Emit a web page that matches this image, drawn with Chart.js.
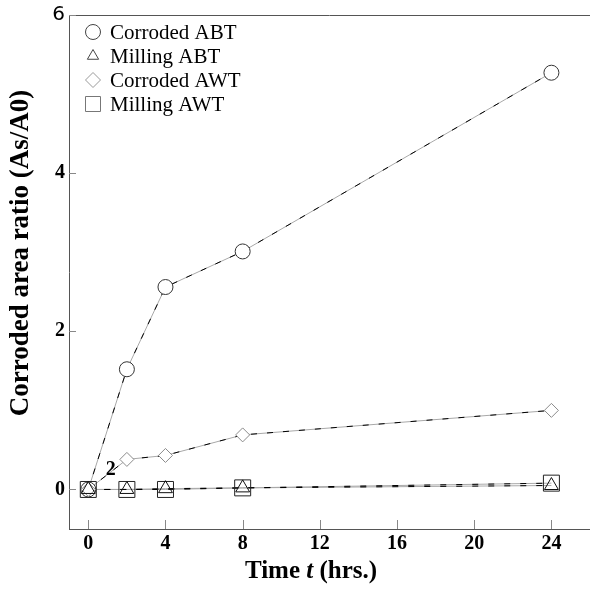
<!DOCTYPE html>
<html>
<head>
<meta charset="utf-8">
<script src="https://cdn.jsdelivr.net/npm/chart.js@4.4.0/dist/chart.umd.min.js"></script>
<style>
  html, body { margin: 0; padding: 0; background: #fff; }
  #wrap { width: 590px; height: 589px; position: relative; }
</style>
</head>
<body>
<div id="wrap"><canvas id="chart"></canvas></div>
<script>
// data
const timeHours = [0, 2, 4, 8, 24];
const corrodedABT = [0, 1.52, 2.56, 3.01, 5.27];
const millingABT = [0, 0, 0.01, 0.02, 0.05];
const corrodedAWT = [0, 0.38, 0.43, 0.69, 1.0];
const millingAWT = [0, 0, 0, 0.02, 0.08];
const seriesNames = ["Corroded ABT", "Milling ABT", "Corroded AWT", "Milling AWT"];
const xTickValues = [0, 4, 8, 12, 16, 20, 24];
const yTickValues = [0, 2, 4, 6];
const noteText = "2";

const serif = "'Liberation Serif', 'Times New Roman', serif";

// marker look for each series (order: lower is drawn on top)
const markerStyles = [
  { style: "circle", radius: 7.5, color: "#333", fill: "#fff", order: 4 },
  { style: "triangle", radius: 8, color: "#111", fill: "rgba(0,0,0,0)", order: 1 },
  { style: "rectRot", radius: 7, color: "#8a8a8a", fill: "#fff", order: 3 },
  { style: "rect", radius: 11.3, color: "#222", fill: "rgba(0,0,0,0)", order: 2 },
];
const allSeries = [corrodedABT, millingABT, corrodedAWT, millingAWT];

function toPoints(values) {
  return timeHours.map((t, i) => ({ x: t, y: values[i] }));
}

const datasets = [];
allSeries.forEach((values, i) => {
  // gray base line
  datasets.push({
    data: toPoints(values),
    borderColor: "#a8a8a8",
    borderWidth: 1,
    pointRadius: 0,
    order: 30,
  });
  // black dashes over it, the source line flickers between black and gray
  datasets.push({
    data: toPoints(values),
    borderColor: "#000",
    borderWidth: 1,
    borderDash: [6, 10],
    pointRadius: 0,
    order: 20,
  });
  // the markers
  datasets.push({
    label: seriesNames[i],
    data: toPoints(values),
    showLine: false,
    pointStyle: markerStyles[i].style,
    pointRadius: markerStyles[i].radius,
    pointHoverRadius: markerStyles[i].radius,
    pointBorderColor: markerStyles[i].color,
    pointBackgroundColor: markerStyles[i].fill,
    pointBorderWidth: 1,
    order: markerStyles[i].order,
  });
});

function drawMarker(ctx, style, x, y, r, color) {
  ctx.save();
  ctx.strokeStyle = color;
  ctx.fillStyle = "#fff";
  ctx.lineWidth = 1;
  ctx.beginPath();
  if (style === "circle") {
    ctx.arc(x, y, r, 0, Math.PI * 2);
  } else if (style === "triangle") {
    ctx.moveTo(x, y - r);
    ctx.lineTo(x + r * 0.866, y + r * 0.5);
    ctx.lineTo(x - r * 0.866, y + r * 0.5);
    ctx.closePath();
  } else if (style === "rectRot") {
    ctx.moveTo(x, y - r);
    ctx.lineTo(x + r, y);
    ctx.lineTo(x, y + r);
    ctx.lineTo(x - r, y);
    ctx.closePath();
  } else {
    ctx.rect(x - r, y - r, 2 * r, 2 * r);
  }
  ctx.fill();
  ctx.stroke();
  ctx.restore();
}

const decorations = {
  id: "decorations",
  afterDraw(chart) {
    const ctx = chart.ctx;
    const area = chart.chartArea;
    const xs = chart.scales.x;
    const ys = chart.scales.y;
    ctx.save();

    // top frame line
    ctx.strokeStyle = "#555";
    ctx.lineWidth = 1;
    ctx.beginPath();
    ctx.moveTo(area.left, area.top + 0.5);
    ctx.lineTo(area.right, area.top + 0.5);
    ctx.stroke();

    // inward tick marks
    ctx.strokeStyle = "#888";
    ctx.beginPath();
    xTickValues.forEach((v) => {
      const px = Math.round(xs.getPixelForValue(v)) + 0.5;
      ctx.moveTo(px, area.bottom);
      ctx.lineTo(px, area.bottom - 9);
    });
    yTickValues.forEach((v) => {
      const py = Math.round(ys.getPixelForValue(v)) + 0.5;
      ctx.moveTo(area.left, py);
      ctx.lineTo(area.left + 7, py);
    });
    ctx.stroke();

    // note near the origin
    ctx.fillStyle = "#000";
    ctx.font = "bold 20px " + serif;
    ctx.textAlign = "center";
    ctx.textBaseline = "middle";
    ctx.fillText(noteText, xs.getPixelForValue(1.16), ys.getPixelForValue(0.25));

    // legend
    ctx.font = "21px " + serif;
    ctx.textAlign = "left";
    seriesNames.forEach((name, i) => {
      const y = 32 + i * 24;
      const legendR = [7.5, 6.5, 7.5, 7.5][i];
      const legendColor = ["#444", "#444", "#999", "#777"][i];
      const st = markerStyles[i].style === "rect" ? "square" : markerStyles[i].style;
      drawMarker(ctx, st, 93, y, legendR, legendColor);
      ctx.fillStyle = "#000";
      ctx.fillText(name, 110, y + 1);
    });

    // x axis title with italic t
    ctx.textBaseline = "middle";
    const parts = [
      { t: "Time ", f: "bold 25px " + serif },
      { t: "t", f: "italic bold 25px " + serif },
      { t: " (hrs.)", f: "bold 25px " + serif },
    ];
    let total = 0;
    parts.forEach((p) => { ctx.font = p.f; p.w = ctx.measureText(p.t).width; total += p.w; });
    let cx = 311 - total / 2;
    parts.forEach((p) => { ctx.font = p.f; ctx.fillText(p.t, cx, 572); cx += p.w; });

    // y axis title
    ctx.translate(21, 253);
    ctx.rotate(-Math.PI / 2);
    ctx.font = "bold 27px " + serif;
    ctx.textAlign = "center";
    ctx.fillText("Corroded area ratio (As/A0)", 0, 0);
    ctx.restore();
  },
};

const ctx = document.getElementById("chart").getContext("2d");
const chart = new Chart(ctx, {
  type: "line",
  data: { datasets: datasets },
  options: {
    responsive: true,
    maintainAspectRatio: false,
    animation: false,
    layout: { autoPadding: false, padding: { top: 15, right: 0, left: 0, bottom: 0 } },
    plugins: { legend: { display: false }, tooltip: { enabled: false } },
    scales: {
      x: {
        type: "linear",
        min: -1,
        max: 26,
        grid: { display: false, drawTicks: false },
        border: { display: true, color: "#555", width: 1 },
        afterBuildTicks: (scale) => { scale.ticks = xTickValues.map((v) => ({ value: v })); },
        afterFit: (scale) => {
          scale.height = 60;
          scale.paddingLeft = 0;
          scale.paddingRight = 0;
        },
        ticks: {
          padding: 3,
          color: "#000",
          maxRotation: 0,
          font: { family: serif, size: 20, weight: "bold" },
        },
      },
      y: {
        type: "linear",
        min: -0.5,
        max: 6,
        grid: { display: false, drawTicks: false },
        border: { display: true, color: "#555", width: 1 },
        afterBuildTicks: (scale) => { scale.ticks = yTickValues.map((v) => ({ value: v })); },
        afterFit: (scale) => {
          scale.width = 69;
          scale.paddingTop = 0;
          scale.paddingBottom = 0;
        },
        ticks: {
          padding: 4,
          color: "#000",
          font: (c) => c.tick && c.tick.value === 6
            ? { family: "'DejaVu Sans', sans-serif", size: 20, weight: "normal" }
            : { family: serif, size: 20, weight: "bold" },
        },
      },
    },
  },
  plugins: [decorations],
});
</script>
</body>
</html>
